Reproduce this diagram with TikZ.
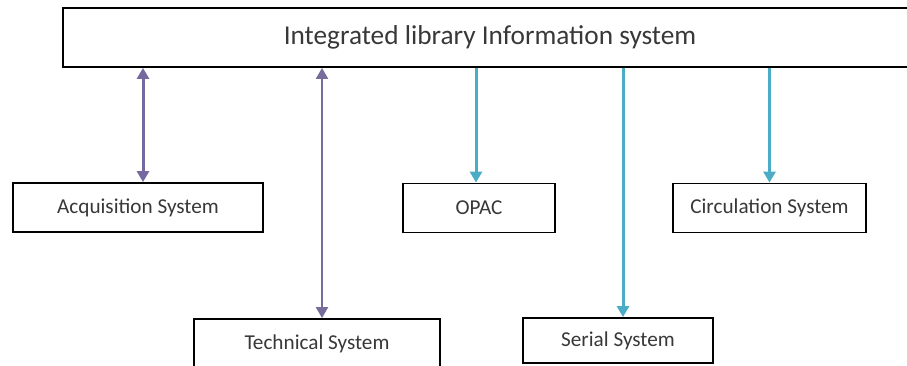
\documentclass[tikz,border=0pt]{standalone}
\usepackage{fontspec}
\setmainfont{Carlito}
\usetikzlibrary{arrows.meta}

\begin{document}
\begin{tikzpicture}[x=1pt,y=-1pt,font=\fontsize{21.2}{25}\selectfont,
   box/.style={draw=black,line width=1.8pt,minimum height=49pt,inner sep=0pt,text=black!78},
   link/.style={line width=3pt,>={Triangle[length=11pt,width=12pt]}}]
   \definecolor{accentpurple}{RGB}{118,104,160}
   \definecolor{accentteal}{RGB}{75,172,198}
   \useasboundingbox (0,0) rectangle (907,366);
   % boxes
   \node[box,minimum width=854pt,minimum height=59pt,font=\fontsize{27.3}{32}\selectfont] (ils) at (490,37.5) {Integrated library Information system};
   \node[box,minimum width=250pt] (acq)    at (138,207.5)   {Acquisition System};
   \node[box,minimum width=152pt] (opac)   at (479,208)     {OPAC};
   \node[box,minimum width=193pt] (circ)   at (769.5,208)   {Circulation System};
   \node[box,minimum width=246pt] (tech)   at (317,343.5)   {Technical System};
   \node[box,minimum width=190pt,minimum height=45pt] (serial) at (618,340.5) {Serial System};
   % arrow ends
   \coordinate (acqtop)    at ([xshift=5pt]acq.north);
   \coordinate (techtop)   at ([xshift=5pt]tech.north);
   \coordinate (opactop)   at ([xshift=-3pt]opac.north);
   \coordinate (serialtop) at ([xshift=5pt]serial.north);
   \draw[link,accentpurple,<->] (ils.south -| acqtop) -- (acqtop);
   \draw[link,accentpurple!85!gray,line width=2pt,<->] (ils.south -| techtop) -- (techtop);
   \draw[link,accentteal,->] (ils.south -| opactop) -- (opactop);
   \draw[link,accentteal,->] (ils.south -| serialtop) -- (serialtop);
   \draw[link,accentteal,->] (ils.south -| circ.north) -- (circ.north);
\end{tikzpicture}
\end{document}
